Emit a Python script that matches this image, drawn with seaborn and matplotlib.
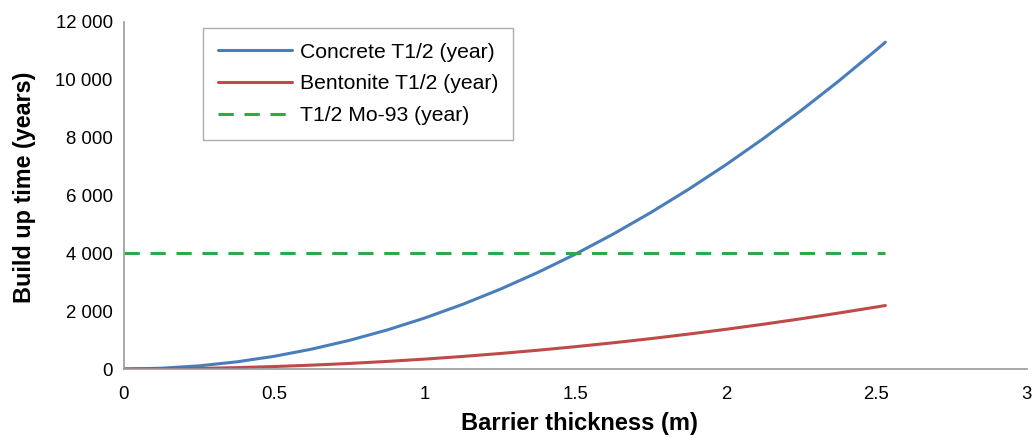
import matplotlib
matplotlib.use("Agg")
import matplotlib.pyplot as plt
from matplotlib.ticker import FuncFormatter
import seaborn as sns
import pandas as pd

# Barrier thickness (m)
thickness = [0, 0.125, 0.25, 0.375, 0.5, 0.625, 0.75, 0.875, 1.0, 1.125, 1.25,
             1.375, 1.5, 1.625, 1.75, 1.875, 2.0, 2.125, 2.25, 2.375, 2.5, 2.53]
# Build up time (years)
concrete = [0, 28, 110, 248, 441, 690, 993, 1351, 1765, 2234, 2758,
            3337, 3971, 4661, 5406, 6205, 7060, 7970, 8936, 9956, 11031, 11298]
bentonite = [0, 5, 21, 48, 86, 134, 193, 263, 343, 434, 536,
             649, 772, 906, 1050, 1206, 1372, 1549, 1737, 1935, 2144, 2195]
mo93_half_life = [4000] * len(thickness)

series_names = ["Concrete T1/2 (year)", "Bentonite T1/2 (year)", "T1/2 Mo-93 (year)"]
x_ticks = [0, 0.5, 1, 1.5, 2, 2.5, 3]
y_ticks = [0, 2000, 4000, 6000, 8000, 10000, 12000]

df = pd.DataFrame({
    "thickness": thickness * 3,
    "time": concrete + bentonite + mo93_half_life,
    "series": [series_names[0]] * len(thickness)
              + [series_names[1]] * len(thickness)
              + [series_names[2]] * len(thickness),
})

sns.set_theme(style="white")
plt.rcParams["font.family"] = ["Liberation Sans", "DejaVu Sans"]
plt.rcParams["text.color"] = "black"
plt.rcParams["axes.labelcolor"] = "black"

fig = plt.figure(figsize=(10.33, 4.38), dpi=100)
ax = fig.add_axes([0.12, 0.1575, 0.874, 0.7925])

palette = {series_names[0]: "#4a7ebb", series_names[1]: "#be4b48", series_names[2]: "#2aaa48"}
dashes = {series_names[0]: "", series_names[1]: "", series_names[2]: (5, 3.5)}
sns.lineplot(data=df, x="thickness", y="time", hue="series", style="series",
             palette=palette, dashes=dashes, linewidth=2.2, ax=ax, legend=True)

ax.set_xlim(0, 3)
ax.set_ylim(0, 12000)
ax.set_xticks(x_ticks)
ax.set_yticks(y_ticks)
ax.xaxis.set_major_formatter(FuncFormatter(lambda v, p: f"{v:g}"))
ax.yaxis.set_major_formatter(FuncFormatter(lambda v, p: f"{int(v):,}".replace(",", " ")))
ax.tick_params(axis="both", labelsize=13.4, colors="black", length=0)
ax.tick_params(axis="x", pad=12)
ax.tick_params(axis="y", pad=8)

ax.set_xlabel("Barrier thickness (m)", fontsize=17, fontweight="bold", color="black")
ax.set_ylabel("Build up time (years)", fontsize=16.8, fontweight="bold", color="black")
ax.xaxis.set_label_coords(0.505, -0.158)
ax.yaxis.set_label_coords(-0.11, 0.523)
ax.xaxis.label.set_va("center")
ax.yaxis.label.set_va("center")

for side in ["top", "right"]:
    ax.spines[side].set_visible(False)
for side in ["left", "bottom"]:
    ax.spines[side].set_color("#999999")
    ax.spines[side].set_linewidth(1.2)

leg = ax.legend(loc="upper left", bbox_to_anchor=(0.0875, 0.983), borderaxespad=0,
                fontsize=15.2, frameon=True, fancybox=False, handlelength=3.5,
                labelspacing=0.6, borderpad=0.7, handletextpad=0.38)
leg.get_frame().set_edgecolor("#999999")
leg.get_frame().set_linewidth(1.0)
for t in leg.get_texts():
    t.set_color("black")

fig.savefig("out.png", dpi=100)
